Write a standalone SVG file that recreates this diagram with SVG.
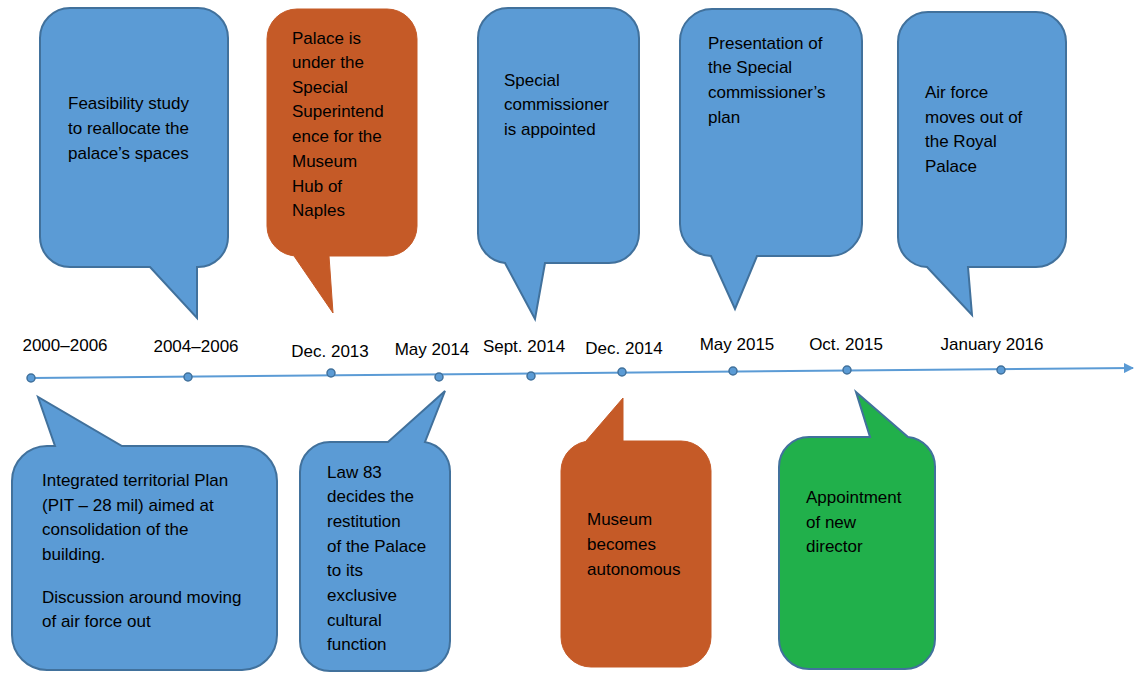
<svg xmlns="http://www.w3.org/2000/svg" width="1134" height="673" viewBox="0 0 1134 673">
<defs>
<marker id="arr" markerWidth="10" markerHeight="10" refX="9" refY="5" orient="auto" markerUnits="userSpaceOnUse">
<path d="M0,0 L10,5 L0,10 Z" fill="#5B9BD5"/>
</marker>
<style>
.blue{fill:#5B9BD5;stroke:#41719C;stroke-width:2}
.orange{fill:#C55A27;stroke:#C55A27;stroke-width:1}
.green{fill:#21B04B;stroke:#41719C;stroke-width:2}
text{font-family:"Liberation Sans",Arial,sans-serif;font-size:17px;fill:#000}
.lbl{text-anchor:middle}
.dot{fill:#5B9BD5;stroke:#41719C;stroke-width:1.5}
</style>
</defs>
<rect width="1134" height="673" fill="#fff"/>
<g id="connectors">
<line x1="31" y1="378" x2="1133" y2="368" stroke="#5B9BD5" stroke-width="2" marker-end="url(#arr)"/>
<circle class="dot" cx="31" cy="378" r="4"/>
<circle class="dot" cx="188" cy="377" r="4"/>
<circle class="dot" cx="331" cy="373" r="4"/>
<circle class="dot" cx="439" cy="377" r="4"/>
<circle class="dot" cx="531" cy="376" r="4"/>
<circle class="dot" cx="622" cy="372" r="4"/>
<circle class="dot" cx="733" cy="371" r="4"/>
<circle class="dot" cx="847" cy="370" r="4"/>
<circle class="dot" cx="1001" cy="370" r="4"/>
</g>
<g id="dates">
<text class="lbl" x="65" y="351">2000–2006</text>
<text class="lbl" x="196" y="352">2004–2006</text>
<text class="lbl" x="330" y="357">Dec. 2013</text>
<text class="lbl" x="432" y="355">May 2014</text>
<text class="lbl" x="524" y="352">Sept. 2014</text>
<text class="lbl" x="624" y="354">Dec. 2014</text>
<text class="lbl" x="737" y="350">May 2015</text>
<text class="lbl" x="846" y="350">Oct. 2015</text>
<text class="lbl" x="992" y="350">January 2016</text>
</g>
<g id="c1">
<path class="blue" d="M70,8 H198 A30,30 0 0 1 228,38 V237 A30,30 0 0 1 198,267 H197 L197,318 L150,267 H70 A30,30 0 0 1 40,237 V38 A30,30 0 0 1 70,8 Z"/>
<text x="68" y="109">Feasibility study</text>
<text x="68" y="134">to reallocate the</text>
<text x="68" y="159">palace’s spaces</text>
</g>
<g id="c2">
<path class="orange" d="M297,9 H387 A30,30 0 0 1 417,39 V226 A30,30 0 0 1 387,256 H329 L333,313 L294,256 H297 A30,30 0 0 1 267,226 V39 A30,30 0 0 1 297,9 Z"/>
<text x="292" y="44">Palace is</text>
<text x="292" y="68">under the</text>
<text x="292" y="93">Special</text>
<text x="292" y="117">Superintend</text>
<text x="292" y="142">ence for the</text>
<text x="292" y="167">Museum</text>
<text x="292" y="192">Hub of</text>
<text x="292" y="216">Naples</text>
</g>
<g id="c3">
<path class="blue" d="M508,8 H609 A30,30 0 0 1 639,38 V233 A30,30 0 0 1 609,263 H545 L535,319 L505,263 A30,30 0 0 1 478,233 V38 A30,30 0 0 1 508,8 Z"/>
<text x="504" y="86">Special</text>
<text x="504" y="110">commissioner</text>
<text x="504" y="135">is appointed</text>
</g>
<g id="c4">
<path class="blue" d="M712,9 H830 A32,32 0 0 1 862,41 V224 A32,32 0 0 1 830,256 H757 L735,309 L711,256 A32,32 0 0 1 680,224 V41 A32,32 0 0 1 712,9 Z"/>
<text x="708" y="49">Presentation of</text>
<text x="708" y="73">the Special</text>
<text x="708" y="98">commissioner’s</text>
<text x="708" y="123">plan</text>
</g>
<g id="c5">
<path class="blue" d="M928,12 H1036 A30,30 0 0 1 1066,42 V237 A30,30 0 0 1 1036,267 H968 L972,315 L927,267 A30,30 0 0 1 898,237 V42 A30,30 0 0 1 928,12 Z"/>
<text x="925" y="98">Air force</text>
<text x="925" y="123">moves out of</text>
<text x="925" y="147">the Royal</text>
<text x="925" y="172">Palace</text>
</g>
<g id="c6">
<path class="blue" d="M47,446 H55 L38,397 L122,446 H242 A35,35 0 0 1 277,481 V635 A35,35 0 0 1 242,670 H47 A35,35 0 0 1 12,635 V481 A35,35 0 0 1 47,446 Z"/>
<text x="42" y="486">Integrated territorial Plan</text>
<text x="42" y="511">(PIT – 28 mil) aimed at</text>
<text x="42" y="535">consolidation of the</text>
<text x="42" y="560">building.</text>
<text x="42" y="603">Discussion around moving</text>
<text x="42" y="627">of air force out</text>
</g>
<g id="c7">
<path class="blue" d="M330,442 H388 L445,391 L425,442 A30,30 0 0 1 450,472 V641 A30,30 0 0 1 420,671 H330 A30,30 0 0 1 300,641 V472 A30,30 0 0 1 330,442 Z"/>
<text x="327" y="478">Law 83</text>
<text x="327" y="502">decides the</text>
<text x="327" y="527">restitution</text>
<text x="327" y="552">of the Palace</text>
<text x="327" y="576">to its</text>
<text x="327" y="601">exclusive</text>
<text x="327" y="626">cultural</text>
<text x="327" y="650">function</text>
</g>
<g id="c8">
<path class="orange" d="M591,441 H586 L623,398 L623,441 H681 A30,30 0 0 1 711,471 V637 A30,30 0 0 1 681,667 H591 A30,30 0 0 1 561,637 V471 A30,30 0 0 1 591,441 Z"/>
<text x="587" y="525">Museum</text>
<text x="587" y="550">becomes</text>
<text x="587" y="575">autonomous</text>
</g>
<g id="c9">
<path class="green" d="M809,437 H870 L856,392 L908,437 A30,30 0 0 1 935,467 V639 A30,30 0 0 1 905,669 H809 A30,30 0 0 1 779,639 V467 A30,30 0 0 1 809,437 Z"/>
<text x="806" y="503">Appointment</text>
<text x="806" y="528">of new</text>
<text x="806" y="552">director</text>
</g>
</svg>
